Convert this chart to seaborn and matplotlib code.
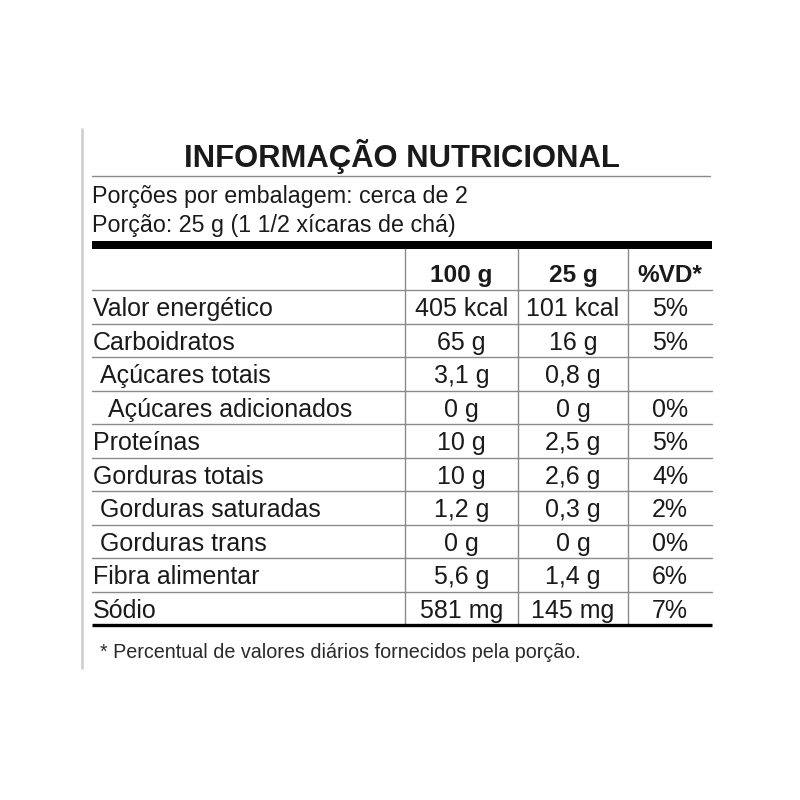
import matplotlib
matplotlib.use("Agg")
import matplotlib.pyplot as plt
import seaborn as sns

sns.set_theme(style="white")
plt.rcParams['font.family'] = ['Liberation Sans', 'DejaVu Sans']

title = "INFORMAÇÃO NUTRICIONAL"
subtitle_lines = ["Porções por embalagem: cerca de 2",
                  "Porção: 25 g (1 1/2 xícaras de chá)"]
col_headers = ["100 g", "25 g", "%VD*"]
row_labels = ["Valor energético", "Carboidratos", "Açúcares totais",
              "Açúcares adicionados", "Proteínas", "Gorduras totais",
              "Gorduras saturadas", "Gorduras trans", "Fibra alimentar", "Sódio"]
row_indent = [0, 0, 1, 2, 0, 0, 1, 1, 0, 0]
per_100g = ["405 kcal", "65 g", "3,1 g", "0 g", "10 g", "10 g", "1,2 g", "0 g", "5,6 g", "581 mg"]
per_25g = ["101 kcal", "16 g", "0,8 g", "0 g", "2,5 g", "2,6 g", "0,3 g", "0 g", "1,4 g", "145 mg"]
pct_vd = ["5%", "5%", "", "0%", "5%", "4%", "2%", "0%", "6%", "7%"]
footnote = "* Percentual de valores diários fornecidos pela porção."

fig = plt.figure(figsize=(8, 8), dpi=100)
ax = fig.add_axes([0, 0, 1, 1])
ax.set_xlim(0, 800)
ax.set_ylim(800, 0)
ax.axis("off")

txt = "#1a1a1a"
grid = "#8a8a8a"
left, right = 92, 712
col_edges = [405, 518, 628, 712]
body_fs = 18.0

# left gray guide line
ax.plot([82, 82], [128, 669], color="#cccccc", lw=1.8, solid_capstyle="butt")

# title
ax.text((left + right) / 2, 166.5, title, ha="center", va="baseline",
        fontsize=22.3, fontweight="bold", color=txt)
ax.plot([left, 710], [176, 176], color=grid, lw=1.0)

ax.text(left, 203.5, subtitle_lines[0], ha="left", va="baseline", fontsize=16.75, color=txt)
ax.text(left, 232, subtitle_lines[1], ha="left", va="baseline", fontsize=16.75, color=txt)

# thick bar
ax.fill_between([left, right], 241, 249, color="black", lw=0)

header_bottom = 290
row_h = 33.5
n = len(row_labels)
bottom = header_bottom + n * row_h

# column separators
for x in col_edges[:-1]:
    ax.plot([x, x], [249, bottom], color=grid, lw=1.0)

# header
col_centers = [(col_edges[i] + col_edges[i + 1]) / 2 for i in range(3)]
for cx, h in zip(col_centers, col_headers):
    ax.text(cx, header_bottom - 8, h, ha="center", va="baseline",
            fontsize=17.6, fontweight="bold", color=txt)
ax.plot([left, right], [header_bottom, header_bottom], color=grid, lw=1.0)

for i in range(n):
    yb = header_bottom + (i + 1) * row_h
    base = yb - 7.3
    ax.text(left + 1 + row_indent[i] * 7.5, base, row_labels[i], ha="left",
            va="baseline", fontsize=body_fs, color=txt)
    for cx, v in zip(col_centers, [per_100g[i], per_25g[i], pct_vd[i]]):
        if v:
            ax.text(cx, base, v, ha="center", va="baseline", fontsize=body_fs, color=txt)
    if i < n - 1:
        ax.plot([left, right], [yb, yb], color=grid, lw=1.0)

ax.plot([left, right], [bottom, bottom], color="black", lw=2.4, solid_capstyle="butt")

ax.text(100, 658, footnote, ha="left", va="baseline", fontsize=14.2, color="#2a2a2a")

fig.savefig("out.png", dpi=100, facecolor="white")
